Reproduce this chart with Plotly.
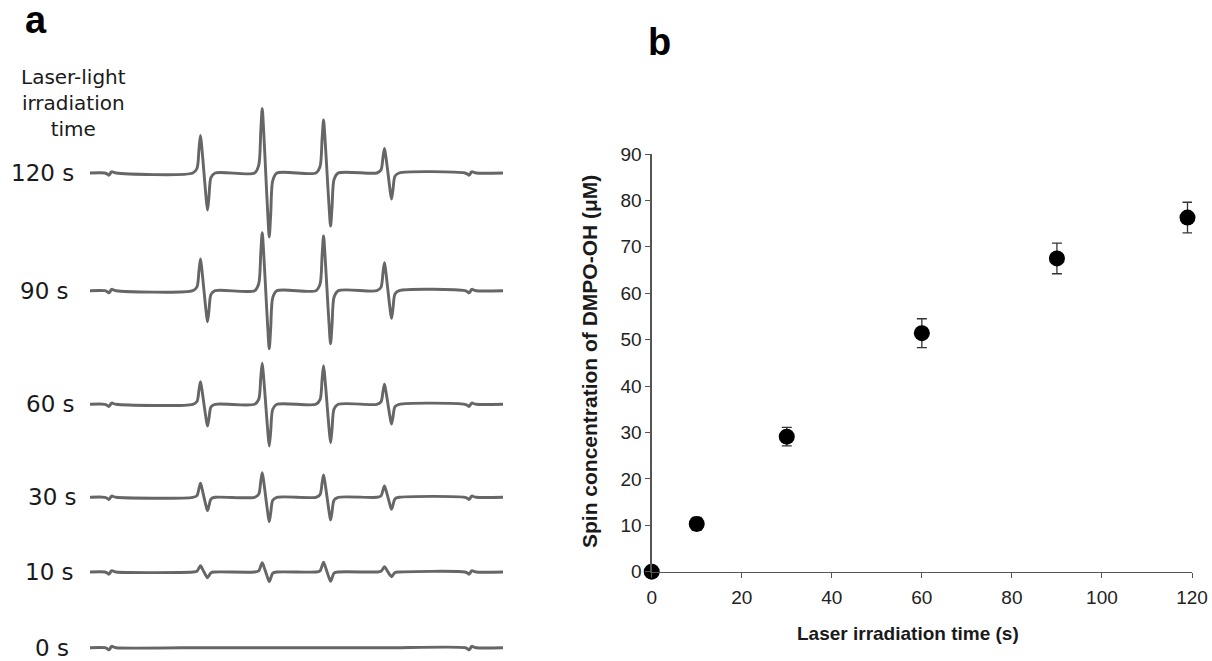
import plotly.graph_objects as go

# ---------------- data: panel a (ESR spectra, DMPO-OH quartet) ----------------
spectrum_labels = ["120 s", "90 s", "60 s", "30 s", "10 s", "0 s"]
field_range_mT = [-5.0, 5.0]
line_centers_mT = [-2.24, -0.745, 0.74, 2.215]      # four hyperfine lines
marker_centers_mT = [-4.52, 4.20]                   # Mn2+ marker signals
marker_dip = [2.2, 2.2]
marker_rise = [1.4, 1.4]

# peak heights above / below baseline (a.u.) for lines 1..4
up_120s = [37.5, 64.5, 53.0, 24.5]
down_120s = [37.0, 64.0, 53.0, 26.0]
up_90s = [31.7, 58.0, 54.7, 28.0]
down_90s = [31.0, 58.0, 53.0, 27.7]
up_60s = [22.7, 41.0, 38.7, 20.0]
down_60s = [21.7, 41.7, 38.4, 19.7]
up_30s = [14.0, 24.7, 22.3, 11.3]
down_30s = [13.3, 24.3, 22.7, 12.0]
up_10s = [6.3, 9.3, 9.7, 5.3]
down_10s = [5.7, 9.7, 9.3, 4.7]
up_0s = [0.0, 0.0, 0.0, 0.0]
down_0s = [0.0, 0.0, 0.0, 0.0]

# ---------------- data: panel b ----------------
irradiation_time_s = [0, 10, 30, 60, 90, 119]
dmpo_oh_uM = [0.0, 10.3, 29.1, 51.4, 67.5, 76.3]
dmpo_oh_err_uM = [0.0, 1.4, 2.0, 3.1, 3.3, 3.3]
x_ticks = [0, 20, 40, 60, 80, 100, 120]
y_ticks = [0, 10, 20, 30, 40, 50, 60, 70, 80, 90]

# ---------------- layout constants ----------------
W, H = 1212, 661
baselines = [488.0, 370.3, 256.7, 163.7, 89.0, 13.3]     # panel-a stacking (px from bottom)
label_right_px = [76, 71, 77, 79, 76, 71]
trace_color = "#666666"
text_color = "#1a1a1a"
axis_color = "#555555"

ups = [up_120s, up_90s, up_60s, up_30s, up_10s, up_0s]
downs = [down_120s, down_90s, down_60s, down_30s, down_10s, down_0s]


def spectrum_vertices(up, down, base):
    feats = []
    for c, d, r in zip(marker_centers_mT, marker_dip, marker_rise):
        feats.append((c, [(-0.12, 0), (-0.05, -0.6 * d), (-0.025, -d), (0.0, -0.6 * d),
                          (0.03, 0.6 * r), (0.055, r), (0.08, 0.6 * r), (0.15, 0)]))
    for c, a, b in zip(line_centers_mT, up, down):
        feats.append((c, [(-0.27, 0), (-0.17, 0.12 * a), (-0.12, 0.65 * a), (-0.085, a),
                          (-0.05, 0.65 * a), (0.0, 0), (0.05, -0.65 * b), (0.085, -b),
                          (0.12, -0.65 * b), (0.17, -0.12 * b), (0.27, 0)]))
    feats.sort(key=lambda f: f[0])
    xs, ys = [field_range_mT[0]], [base]
    for c, pts in feats:
        for dx, dy in pts:
            xs.append(c + dx)
            ys.append(base + dy)
    xs.append(field_range_mT[1])
    ys.append(base)
    return xs, ys


fig = go.Figure()

for lab, up, dn, base in zip(spectrum_labels, ups, downs, baselines):
    xs, ys = spectrum_vertices(up, dn, base)
    fig.add_trace(go.Scatter(x=xs, y=ys, mode="lines", name=lab,
                             line=dict(color=trace_color, width=2.9, shape="spline", smoothing=0.8),
                             xaxis="x", yaxis="y", showlegend=False, hoverinfo="skip"))

fig.add_trace(go.Scatter(
    x=irradiation_time_s, y=dmpo_oh_uM, mode="markers",
    marker=dict(color="black", size=16),
    error_y=dict(type="data", array=dmpo_oh_err_uM, visible=True,
                 color="#333333", thickness=1.3, width=5),
    xaxis="x2", yaxis="y2", showlegend=False, cliponaxis=False))

# panel-b pixel geometry
x0_px, x1_px = 651.7, 1192.0
y0_px, y1_px = 571.7, 154.0

fig.update_layout(
    width=W, height=H,
    margin=dict(l=0, r=0, t=0, b=0, pad=0, autoexpand=False),
    paper_bgcolor="white", plot_bgcolor="white",
    font=dict(family="Liberation Sans, Arial, sans-serif", color=text_color),
    xaxis=dict(domain=[90 / W, 503 / W], range=field_range_mT, visible=False, fixedrange=True),
    yaxis=dict(domain=[0, 1], range=[0, H], visible=False, fixedrange=True),
    xaxis2=dict(domain=[x0_px / W, x1_px / W], range=[0, 120], anchor="y2",
                tickvals=x_ticks, ticks="outside", ticklen=5, tickwidth=1, tickcolor=axis_color,
                showline=True, linecolor=axis_color, linewidth=1.3, showgrid=False, zeroline=False,
                tickfont=dict(size=19, color="#222222", family="Liberation Sans, Arial"),
                ticklabelstandoff=3, automargin=False),
    yaxis2=dict(domain=[(H - y0_px) / H, (H - y1_px) / H], range=[0, 90], anchor="x2",
                tickvals=y_ticks, ticks="outside", ticklen=5, tickwidth=1, tickcolor=axis_color,
                showline=True, linecolor=axis_color, linewidth=1.3, showgrid=False, zeroline=False,
                tickfont=dict(size=19, color="#222222", family="Liberation Sans, Arial"),
                automargin=False),
)


def px_ann(text, xp, yp, size, family, bold=False, **kw):
    return dict(text=f"<b>{text}</b>" if bold else text, x=xp / W, y=1 - yp / H,
                xref="paper", yref="paper", showarrow=False,
                xanchor=kw.pop("xanchor", "center"), yanchor=kw.pop("yanchor", "middle"),
                font=dict(size=size, family=family, color=kw.pop("color", text_color)), **kw)


ann = []
ann.append(px_ann("a", 36, 20, 38, "Liberation Sans, Arial", bold=True, color="black"))
ann.append(px_ann("b", 659, 42, 38, "Liberation Sans, Arial", bold=True, color="black"))
ann.append(px_ann("Laser-light<br>irradiation<br>time", 73, 103, 20, "DejaVu Sans", align="center"))
for lab, base, rx in zip(spectrum_labels, baselines, label_right_px):
    ann.append(dict(text=lab, x=rx / W, y=base, xref="paper", yref="y", xanchor="right",
                    yanchor="middle", showarrow=False,
                    font=dict(size=23, family="DejaVu Sans", color=text_color)))
ann.append(px_ann("Laser irradiation time (s)", 908, 633, 19, "Liberation Sans, Arial", bold=True))
ann.append(px_ann("Spin concentration of DMPO-OH (μM)", 589, 362, 21, "Liberation Sans, Arial",
                  bold=True, textangle=-90))
fig.update_layout(annotations=ann)

fig.write_html("out.html", config={"displayModeBar": False, "staticPlot": True},
               post_script="document.body.style.margin='0';document.body.style.overflow='hidden';")
